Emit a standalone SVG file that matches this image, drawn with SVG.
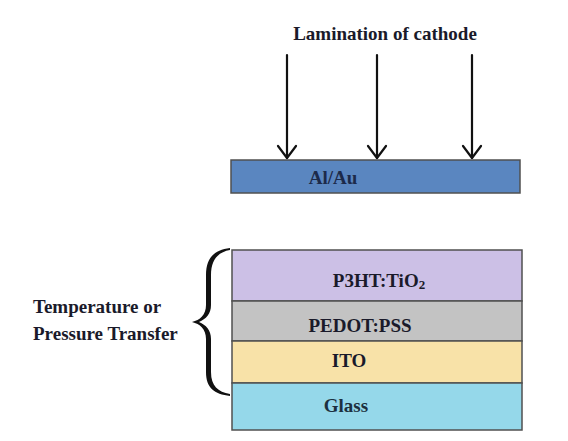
<svg xmlns="http://www.w3.org/2000/svg" width="568" height="441" viewBox="0 0 568 441">
  <defs>
    <style>
      text { font-family: "Liberation Serif", "Times New Roman", Tinos, "DejaVu Serif", serif; font-weight: bold; font-size: 19px; fill: #1a1a2a; }
      .layer { stroke: #505050; stroke-width: 1.5; }
      .arrow { stroke: #111; stroke-width: 2.2; fill: none; stroke-linecap: round; stroke-linejoin: round; }
    </style>
  </defs>
  <rect width="568" height="441" fill="#ffffff"/>

  <text x="385" y="40" text-anchor="middle" font-family="Liberation Serif, serif">Lamination of cathode</text>

  <g id="connectors">
    <line class="arrow" x1="287" y1="55" x2="287" y2="158"/>
    <path class="arrow" d="M278,146 L287,158 L296,146"/>
    <line class="arrow" x1="377" y1="55" x2="377" y2="158"/>
    <path class="arrow" d="M368,146 L377,158 L386,146"/>
    <line class="arrow" x1="472" y1="55" x2="472" y2="158"/>
    <path class="arrow" d="M463,146 L472,158 L481,146"/>
  </g>

  <g id="cathode">
    <rect class="layer" x="231" y="160" width="289" height="33" fill="#5a86c0"/>
    <text x="333" y="184" font-size="18" text-anchor="middle" style="fill:#1c2a4a">Al/Au</text>
  </g>

  <g id="p3ht">
    <rect class="layer" x="232" y="250" width="290" height="51" fill="#ccc0e6"/>
    <text x="379" y="287" text-anchor="middle">P3HT:TiO<tspan font-size="13" dy="2">2</tspan></text>
  </g>
  <g id="pedot">
    <rect class="layer" x="232" y="301" width="290" height="40" fill="#c3c3c3"/>
    <text x="360" y="332" text-anchor="middle">PEDOT:PSS</text>
  </g>
  <g id="ito">
    <rect class="layer" x="232" y="341" width="290" height="42" fill="#f8e2a8"/>
    <text x="349" y="367" text-anchor="middle">ITO</text>
  </g>
  <g id="glass">
    <rect class="layer" x="232" y="383" width="290" height="47" fill="#95d8ea"/>
    <text x="346" y="412" text-anchor="middle" style="fill:#1c3040">Glass</text>
  </g>

  <g id="transfer">
    <path fill="#111" d="M230,248 C214,250 206,258 206,275 L206,305 C206,315 200,320 192,322 C200,324 206,329 206,339 L206,372 C206,388 214,394 230,396 L230,394 C218,392 211,386 211,372 L211,339 C211,330 206,325 199,322 C206,319 211,314 211,305 L211,275 C211,260 218,252 230,250 Z"/>
    <text x="33" y="313">Temperature or</text>
    <text x="33" y="340">Pressure Transfer</text>
  </g>
</svg>
